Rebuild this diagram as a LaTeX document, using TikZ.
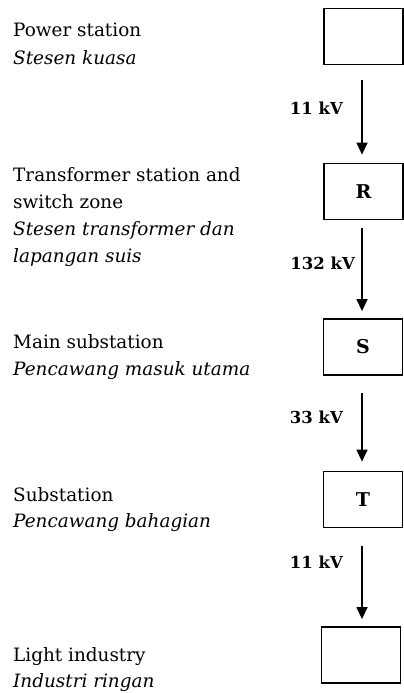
\documentclass[tikz,border=0pt]{standalone}
\usepackage{fontspec}
\newfontfamily\dvs{DejaVu Serif}
\usetikzlibrary{arrows.meta}
\begin{document}
\begin{tikzpicture}[x=1pt,y=-1pt,
  stn/.style={draw,line width=1.8pt,minimum width=79pt,minimum height=56pt,inner sep=0pt,font=\dvs\fontsize{19}{22}\selectfont\bfseries},
  en/.style={anchor=base west,inner sep=0pt,font=\dvs\fontsize{18.4}{22}\selectfont},
  my/.style={anchor=base west,inner sep=0pt,font=\dvs\fontsize{18.4}{22}\selectfont\itshape},
  kv/.style={anchor=east,inner sep=0pt,font=\dvs\fontsize{16.5}{20}\selectfont\bfseries},
  flow/.style={line width=1.4pt,-{Triangle[length=12pt,width=11pt]}}]
\useasboundingbox (0,0) rectangle (404,693);
% boxes
\node[stn] (p) at (363.5,36.5) {};
\node[stn] (r) at (363.5,191.5) {R};
\node[stn] (s) at (363,347) {S};
\node[stn] (t) at (363,499.5) {T};
\node[stn] (l) at (361,655) {};
% arrows
\draw[flow,shorten <=15pt,shorten >=8pt] (p.south -| 362,0) -- (r.north -| 362,0);
\draw[flow,shorten <=8pt,shorten >=7pt] (r.south -| 362,0) -- (s.north -| 362,0);
\draw[flow,shorten <=17pt,shorten >=9pt] (s.south -| 362,0) -- (t.north -| 362,0);
\draw[flow,shorten <=18pt,shorten >=7pt] (t.south -| 362,0) -- (l.north -| 362,0);
% voltage labels
\node[kv] (v1) at (343,108) {11 kV};
\node[kv] (v2) at (355,263) {132 kV};
\node[kv] (v3) at (343,417) {33 kV};
\node[kv] (v4) at (343,562) {11 kV};
% descriptions
\node[en] (a1) at (13,37) {Power station};
\node[my] (a2) at (13,64) {Stesen kuasa};
\node[en] (b1) at (13,181) {Transformer station and};
\node[en] (b2) at (13,208) {switch zone};
\node[my] (b3) at (13,235) {Stesen transformer dan};
\node[my] (b4) at (13,262) {lapangan suis};
\node[en] (c1) at (13,348) {Main substation};
\node[my] (c2) at (13,375) {Pencawang masuk utama};
\node[en] (d1) at (13,501) {Substation};
\node[my] (d2) at (13,527) {Pencawang bahagian};
\node[en] (e1) at (13,661) {Light industry};
\node[my] (e2) at (13,687) {Industri ringan};
\end{tikzpicture}
\end{document}
